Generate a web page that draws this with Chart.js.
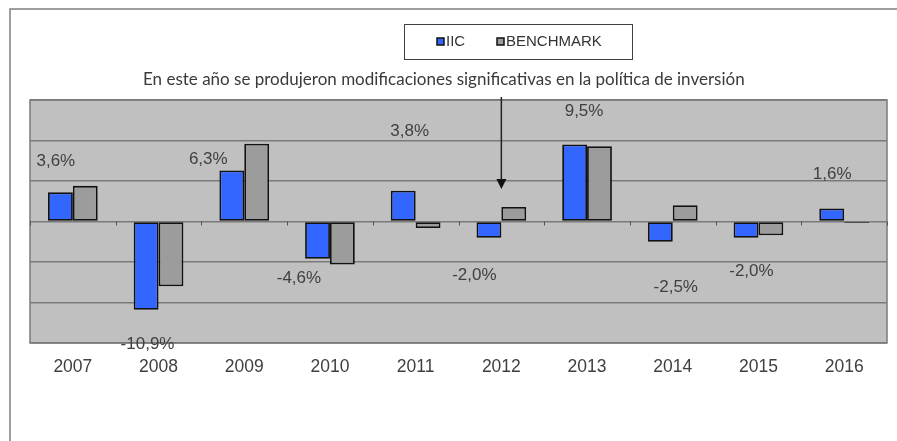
<!DOCTYPE html>
<html>
<head>
<meta charset="utf-8">
<script src="https://cdn.jsdelivr.net/npm/chart.js@4.4.1/dist/chart.umd.min.js"></script>
<style>
  html, body { margin: 0; padding: 0; background: #fff; }
  #wrap { width: 897px; height: 441px; }
</style>
</head>
<body>
<div id="wrap"><canvas id="chart" width="897" height="441"></canvas></div>
<script>
// data
const years = ['2007', '2008', '2009', '2010', '2011', '2012', '2013', '2014', '2015', '2016']
const iic = [3.6, -10.9, 6.3, -4.6, 3.8, -2.0, 9.5, -2.5, -2.0, 1.6]
const benchmark = [4.4, -8.0, 9.6, -5.3, -0.8, 1.8, 9.3, 2.0, -1.7, -0.2]
const yTicks = [-15, -10, -5, 0, 5, 10, 15]
const note = 'En este año se produjeron modificaciones significativas en la política de inversión'
const noteYear = '2012'

// where the IIC value labels were dragged to: [dx from category centre, y in axis units]
const labelSpots = [
  [-17, 7.4], [-11, -15.2], [-36, 7.7], [-31, -7.0], [-6, 11.1],
  [-27, -6.7], [-3, 13.6], [3, -8.1], [-7, -6.1], [-12, 5.8]
]

const fmt = v => v.toFixed(1).replace('.', ',') + '%'

const excelLook = {
  id: 'excelLook',
  beforeDraw (chart) {
    const { ctx, chartArea: a } = chart
    ctx.save()
    // outer frame (top + left only visible)
    ctx.strokeStyle = '#808080'
    ctx.lineWidth = 1.5
    ctx.beginPath()
    ctx.moveTo(10, 441)
    ctx.lineTo(10, 9)
    ctx.lineTo(897, 9)
    ctx.stroke()
    // plot background
    ctx.fillStyle = '#c0c0c0'
    ctx.fillRect(a.left, a.top, a.right - a.left, a.bottom - a.top)
    ctx.restore()
  },
  afterDatasetsDraw (chart) {
    const { ctx, chartArea: a, scales: { x, y } } = chart
    ctx.save()
    // plot border
    ctx.strokeStyle = '#7a7a7a'
    ctx.lineWidth = 1.5
    ctx.strokeRect(a.left, a.top, a.right - a.left, a.bottom - a.top)

    // tick marks on the zero line
    const y0 = y.getPixelForValue(0)
    const step = x.getPixelForValue(1) - x.getPixelForValue(0)
    ctx.strokeStyle = '#555'
    ctx.lineWidth = 1
    for (let i = 0; i <= years.length; i++) {
      const px = Math.round(x.getPixelForValue(i) - step / 2) + 0.5
      ctx.beginPath()
      ctx.moveTo(px, y0)
      ctx.lineTo(px, y0 + 4)
      ctx.stroke()
    }

    // value labels for IIC
    ctx.fillStyle = '#404040'
    ctx.font = '17px "Liberation Sans", Arial, sans-serif'
    ctx.textAlign = 'center'
    ctx.textBaseline = 'middle'
    iic.forEach((v, i) => {
      const [dx, yv] = labelSpots[i]
      ctx.fillText(fmt(v), x.getPixelForValue(i) + dx, y.getPixelForValue(yv))
    })

    // note + arrow (note stretched over the same span as in the original)
    ctx.font = '15px Lato, "Noto Sans", sans-serif'
    const size = 15 * 602 / ctx.measureText(note).width
    ctx.font = size.toFixed(2) + 'px Lato, "Noto Sans", sans-serif'
    ctx.fillStyle = '#3a3a3a'
    ctx.textAlign = 'left'
    ctx.fillText(note, 143, 80)
    const ax = x.getPixelForValue(years.indexOf(noteYear))
    ctx.strokeStyle = '#222'
    ctx.lineWidth = 1.5
    ctx.beginPath()
    ctx.moveTo(ax, 97)
    ctx.lineTo(ax, 182)
    ctx.stroke()
    ctx.fillStyle = '#111'
    ctx.beginPath()
    ctx.moveTo(ax - 5, 179)
    ctx.lineTo(ax + 5, 179)
    ctx.lineTo(ax, 189)
    ctx.closePath()
    ctx.fill()

    // legend box
    ctx.strokeStyle = '#404040'
    ctx.lineWidth = 1
    ctx.strokeRect(404.5, 24.5, 228, 35)
    ctx.font = '15px "Liberation Sans", Arial, sans-serif'
    ctx.textBaseline = 'middle'
    chart.data.datasets.forEach((ds, i) => {
      const sx = i === 0 ? 437 : 497
      ctx.fillStyle = ds.backgroundColor
      ctx.fillRect(sx, 38, 7, 7)
      ctx.strokeStyle = '#111'
      ctx.lineWidth = 1.5
      ctx.strokeRect(sx, 38, 7, 7)
      ctx.fillStyle = '#333'
      ctx.fillText(ds.label, sx + 9, 42)
    })
    ctx.restore()
  }
}

new Chart('chart', {
  type: 'bar',
  data: {
    labels: years,
    datasets: [
      { label: 'IIC', data: iic, backgroundColor: '#3366ff' },
      { label: 'BENCHMARK', data: benchmark, backgroundColor: '#9c9c9c' }
    ]
  },
  options: {
    responsive: false,
    animation: false,
    layout: { padding: { top: 100, left: 30, right: 10, bottom: 0 } },
    datasets: {
      bar: {
        categoryPercentage: 0.58,
        barPercentage: 1,
        borderColor: '#111',
        borderWidth: 1.8,
        borderSkipped: false
      }
    },
    plugins: {
      legend: { display: false },
      tooltip: { enabled: false }
    },
    scales: {
      x: {
        grid: { display: false, drawTicks: false },
        border: { display: false },
        ticks: {
          padding: 14,
          color: '#404040',
          font: { family: '"Liberation Sans", Arial, sans-serif', size: 17.5 }
        },
        afterFit (scale) { scale.height = 98 }
      },
      y: {
        min: -15,
        max: 15,
        afterBuildTicks (scale) { scale.ticks = yTicks.map(v => ({ value: v })) },
        grid: { color: '#7a7a7a', lineWidth: 1.5, drawTicks: false },
        border: { display: false },
        ticks: { display: false },
        afterFit (scale) { scale.width = 0 }
      }
    }
  },
  plugins: [excelLook]
})
</script>
</body>
</html>
